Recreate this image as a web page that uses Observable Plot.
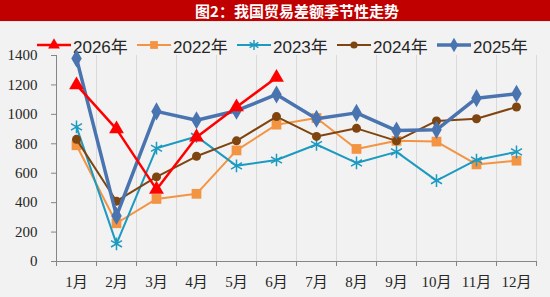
<!DOCTYPE html>
<html>
<head>
<meta charset="utf-8">
<script src="https://cdn.jsdelivr.net/npm/d3@7"></script>
<script src="https://cdn.jsdelivr.net/npm/@observablehq/plot@0.6"></script>
<style>
  html, body { margin: 0; padding: 0; background: #F2F2F2; }
  #wrap { position: relative; width: 550px; height: 297px; background: #F2F2F2; overflow: hidden; }
  #title { height: 22px; background: #C00000; color: #fff; font: bold 15px "Noto Sans CJK SC", sans-serif;
           text-align: center; line-height: 22px; padding-left: 44px; box-sizing: border-box; border-bottom: 1px solid #e6e6e6; }
  #legend { position: absolute; top: 34px; left: 0; width: 550px; height: 22px; }
  .item { position: absolute; top: 0; height: 22px; display: flex; align-items: center; }
  .item span { font: 17px "Liberation Sans", "Noto Sans CJK SC", sans-serif; color: #262626; margin-left: 2px; }
  #chart { position: absolute; top: 22px; left: 0; }
  #chart g[aria-label="y-axis tick"] path { stroke: #868686; }
</style>
</head>
<body>
<div id="wrap">
  <div id="title">图2：我国贸易差额季节性走势</div>
  <div id="legend"></div>
  <div id="chart"></div>
</div>
<script>
const months = ["1月","2月","3月","4月","5月","6月","7月","8月","9月","10月","11月","12月"];
const seriesNames = ["2026年","2022年","2023年","2024年","2025年"];
const v2026 = [1200, 900, 490, 845, 1050, 1250];
const v2022 = [790, 260, 425, 460, 755, 930, 975, 765, 820, 815, 660, 685];
const v2023 = [915, 120, 770, 850, 650, 690, 795, 670, 745, 550, 690, 745];
const v2024 = [830, 410, 575, 715, 820, 985, 850, 905, 820, 955, 970, 1050];
const v2025 = [1380, 310, 1020, 960, 1025, 1135, 970, 1010, 890, 895, 1110, 1140];
const yTicks = [0, 200, 400, 600, 800, 1000, 1200, 1400];

const values = {"2026年": v2026, "2022年": v2022, "2023年": v2023, "2024年": v2024, "2025年": v2025};
const styles = {
  "2026年": {color: "#FF0000", symbol: "triangle", r: 5.5, width: 2.5, fill: true},
  "2022年": {color: "#F39443", symbol: "square", r: 5.5, width: 2, fill: true},
  "2023年": {color: "#1C9AC0", symbol: "asterisk", r: 6, width: 2, fill: false},
  "2024年": {color: "#7F4510", symbol: "circle", r: 4.5, width: 2, fill: true},
  "2025年": {color: "#4A74B0", symbol: "diamond", r: 5.5, width: 3.5, fill: true}
};
const drawOrder = ["2022年","2023年","2024年","2025年","2026年"];

const rows = s => values[s].map((v, i) => ({month: months[i], value: v, series: s}));

const marks = [
  Plot.ruleX(months, {x: d => d, dx: -20, stroke: "#D9D9D9", strokeWidth: 1}),
  Plot.ruleX(months.slice(-1), {x: d => d, dx: 20, stroke: "#D9D9D9", strokeWidth: 1}),
  Plot.ruleX(months, {x: d => d, dx: -20, y1: 0, y2: 0, insetBottom: -5, stroke: "#868686"}),
  Plot.ruleX(months.slice(-1), {x: d => d, dx: 20, y1: 0, y2: 0, insetBottom: -5, stroke: "#868686"}),
  Plot.ruleX(months.slice(0, 1), {x: d => d, dx: -20, stroke: "#868686"}),
  Plot.ruleY([0], {stroke: "#868686"})
];
for (const s of drawOrder) {
  const st = styles[s];
  const data = rows(s);
  marks.push(Plot.line(data, {x: "month", y: "value", stroke: st.color, strokeWidth: st.width, strokeLinejoin: "miter"}));
  marks.push(Plot.dot(data, st.fill
    ? {x: "month", y: "value", symbol: () => st.symbol, r: st.r, fill: st.color, stroke: "none"}
    : {x: "month", y: "value", symbol: () => st.symbol, r: st.r, fill: "none", stroke: st.color, strokeWidth: 1.5}));
}

const chart = Plot.plot({
  width: 550, height: 275,
  marginTop: 33, marginBottom: 36, marginLeft: 56, marginRight: 14,
  style: {background: "transparent", fontFamily: "'Liberation Serif', 'Noto Sans CJK SC', serif", fontSize: "15px", color: "#262626", overflow: "visible"},
  x: {type: "band", domain: months, padding: 0, tickSize: 0, tickPadding: 15, label: null},
  y: {domain: [0, 1400], ticks: yTicks, tickFormat: d3.format("d"), tickSize: 5, tickPadding: 14, label: null},
  symbol: {type: "identity"},
  marks
});
document.getElementById("chart").appendChild(chart);

// legend
const legend = d3.select("#legend");
const typeMap = {triangle: d3.symbolTriangle, square: d3.symbolSquare, asterisk: d3.symbolAsterisk, circle: d3.symbolCircle, diamond: d3.symbolDiamond};
seriesNames.forEach((s, i) => {
  const st = styles[s];
  const item = legend.append("div").attr("class", "item").style("left", (37 + i * 100) + "px");
  const svg = item.append("svg").attr("width", 34).attr("height", 22);
  svg.append("line").attr("x1", 0).attr("x2", 34).attr("y1", 11).attr("y2", 11)
    .attr("stroke", st.color).attr("stroke-width", st.width);
  const rr = st.r * 0.8;
  svg.append("path").attr("transform", "translate(17,11)")
    .attr("d", d3.symbol(typeMap[st.symbol], Math.PI * rr * rr)())
    .attr("fill", st.fill ? st.color : "none")
    .attr("stroke", st.fill ? "none" : st.color).attr("stroke-width", 1.5);
  item.append("span").text(s);
});
</script>
</body>
</html>
